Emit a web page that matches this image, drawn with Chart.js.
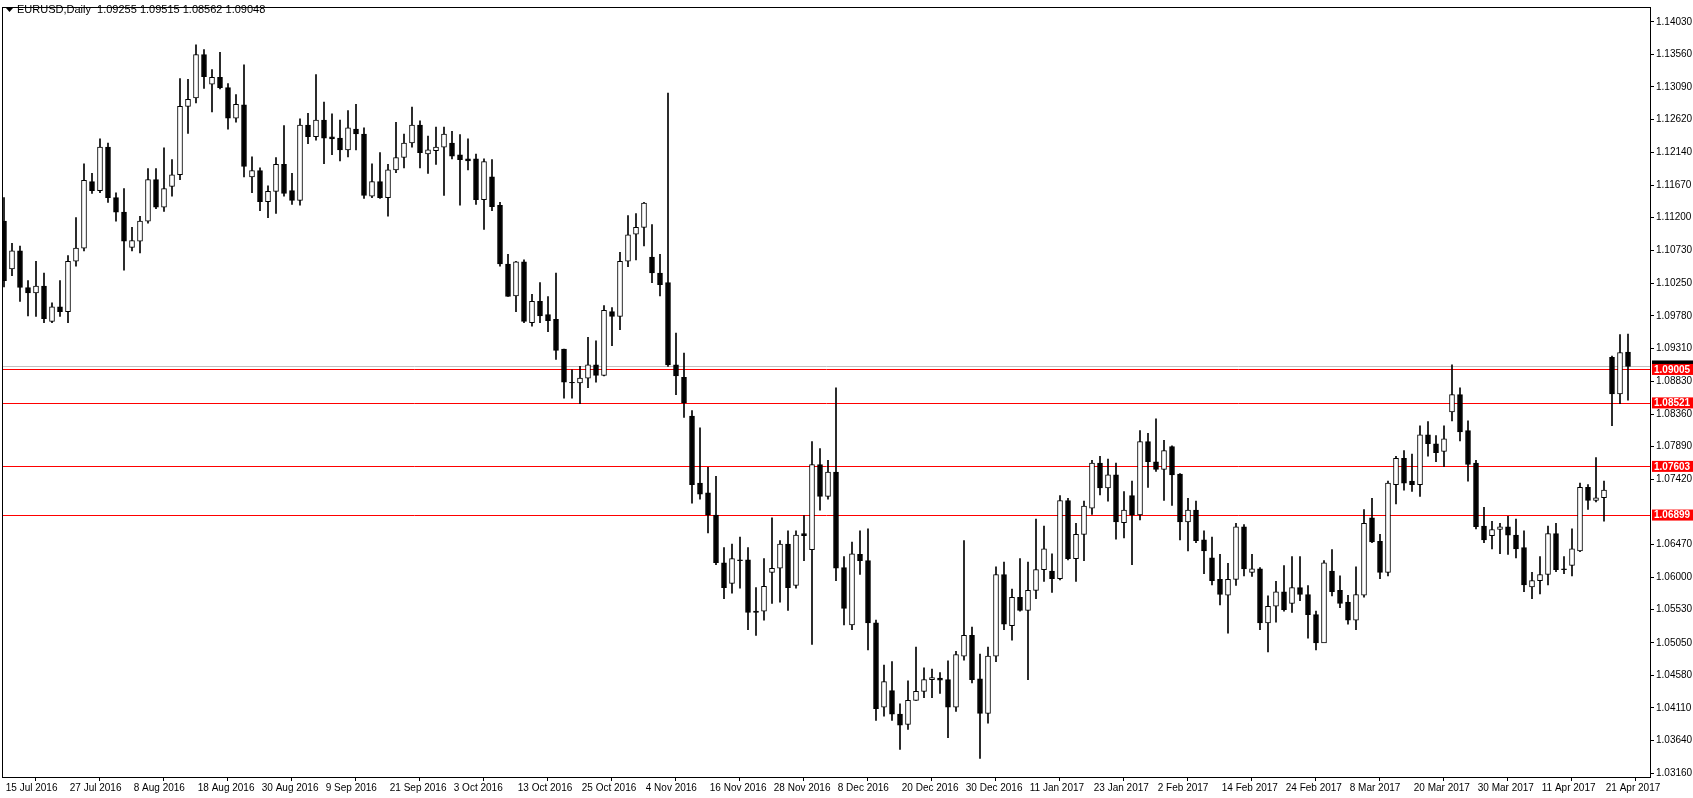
<!DOCTYPE html>
<html><head><meta charset="utf-8">
<script src="https://cdn.jsdelivr.net/npm/chart.js@4.4.1/dist/chart.umd.min.js"></script>
<style>html,body{margin:0;padding:0;background:#fff;overflow:hidden}canvas{display:block}</style>
</head><body>
<canvas id="c" width="1693" height="798"></canvas>
<script>
const opens = [
1.1115,1.1046,1.1072,1.1019,1.1011,1.1021,1.0970,1.0991,1.0984,1.1057,
1.1076,1.1172,1.1159,1.1222,1.1149,1.1128,1.1077,1.1086,1.1115,1.1175,
1.1135,1.1165,1.1182,1.1281,1.1293,1.1356,1.1313,1.1323,1.1308,1.1264,
1.1283,1.1179,1.1188,1.1143,1.1158,1.1197,1.1159,1.1145,1.1254,1.1237,
1.1261,1.1237,1.1235,1.1218,1.1248,1.1241,1.1151,1.1172,1.1149,1.1189,
1.1207,1.1228,1.1254,1.1212,1.1217,1.1222,1.1228,1.1211,1.1205,1.1205,
1.1146,1.1179,1.1138,1.1053,1.1007,1.1056,1.0968,1.0999,1.0980,1.0973,
1.0930,1.0882,1.0881,1.0888,1.0907,1.0892,1.0984,1.0977,1.1057,1.1096,
1.1106,1.1063,1.1040,1.1026,1.0907,1.0889,1.0833,1.0736,1.0722,1.0690,
1.0621,1.0591,1.0625,1.0625,1.0551,1.0551,1.0607,1.0613,1.0648,1.0588,
1.0663,1.0640,1.0763,1.0717,1.0752,1.0614,1.0531,1.0633,1.0624,1.0534,
1.0412,1.0436,1.0402,1.0387,1.0422,1.0435,1.0452,1.0454,1.0452,1.0412,
1.0486,1.0516,1.0453,1.0403,1.0486,1.0604,1.0530,1.0571,1.0552,1.0581,
1.0611,1.0609,1.0598,1.0711,1.0627,1.0662,1.0700,1.0765,1.0729,1.0748,
1.0679,1.0718,1.0690,1.0796,1.0767,1.0756,1.0789,1.0749,1.0680,1.0697,
1.0654,1.0628,1.0597,1.0574,1.0597,1.0673,1.0607,1.0612,1.0534,1.0558,
1.0579,1.0562,1.0585,1.0575,1.0546,1.0505,1.0609,1.0581,1.0564,1.0538,
1.0574,1.0686,1.0652,1.0607,1.0734,1.0772,1.0739,1.0734,1.0806,1.0793,
1.0782,1.0839,1.0864,1.0812,1.0765,1.0674,1.0660,1.0669,1.0673,1.0661,
1.0643,1.0586,1.0595,1.0604,1.0663,1.0612,1.0617,1.0638,1.0730,1.0711,
1.0715,1.0918,1.0865,1.09255];
const highs = [
1.1149,1.1083,1.1079,1.1029,1.1057,1.1040,1.0997,1.1029,1.1065,1.1120,
1.1198,1.1184,1.1234,1.1228,1.1156,1.1162,1.1106,1.1122,1.1191,1.1191,
1.1221,1.1204,1.1321,1.1320,1.1370,1.1363,1.1334,1.1359,1.1314,1.1298,
1.1341,1.1208,1.1192,1.1166,1.1207,1.1253,1.1184,1.1263,1.1271,1.1327,
1.1287,1.1270,1.1261,1.1275,1.1284,1.1250,1.1198,1.1214,1.1197,1.1258,
1.1241,1.1280,1.1260,1.1238,1.1251,1.1251,1.1245,1.1240,1.1234,1.1212,
1.1205,1.1204,1.1142,1.1067,1.1057,1.1059,1.1009,1.1026,1.1006,1.1040,
1.0930,1.0900,1.0905,1.0947,1.0942,1.0993,1.0990,1.1070,1.1123,1.1126,
1.1142,1.1110,1.1067,1.1300,1.0953,1.0924,1.0841,1.0816,1.0759,1.0746,
1.0643,1.0648,1.0658,1.0643,1.0585,1.0627,1.0686,1.0653,1.0667,1.0667,
1.0689,1.0796,1.0786,1.0769,1.0874,1.0630,1.0651,1.0667,1.0670,1.0538,
1.0473,1.0478,1.0417,1.0450,1.0499,1.0469,1.0467,1.0462,1.0479,1.0493,
1.0653,1.0528,1.0489,1.0499,1.0615,1.0622,1.0583,1.0627,1.0622,1.0684,
1.0674,1.0634,1.0718,1.0714,1.0678,1.0710,1.0769,1.0775,1.0771,1.0765,
1.0724,1.0739,1.0812,1.0808,1.0829,1.0798,1.0790,1.0750,1.0714,1.0710,
1.0667,1.0658,1.0633,1.0620,1.0678,1.0676,1.0633,1.0614,1.0573,1.0594,
1.0617,1.0630,1.0630,1.0588,1.0551,1.0624,1.0640,1.0602,1.0574,1.0615,
1.0698,1.0714,1.0662,1.0739,1.0775,1.0783,1.0778,1.0819,1.0825,1.0805,
1.0819,1.0907,1.0874,1.0826,1.0769,1.0701,1.0681,1.0678,1.0688,1.0684,
1.0667,1.0607,1.0630,1.0674,1.0678,1.0630,1.0670,1.0736,1.0734,1.0773,
1.0739,1.0920,1.0951,1.09515];
const lows = [
1.1020,1.1036,1.0999,1.0978,1.0977,1.0968,1.0968,1.0977,1.0968,1.1050,
1.1072,1.1155,1.1156,1.1142,1.1115,1.1044,1.1072,1.1069,1.1112,1.1133,
1.1129,1.1151,1.1175,1.1242,1.1286,1.1307,1.1273,1.1306,1.1248,1.1258,
1.1179,1.1156,1.1130,1.1120,1.1126,1.1151,1.1139,1.1138,1.1227,1.1232,
1.1198,1.1211,1.1202,1.1208,1.1218,1.1148,1.1149,1.1148,1.1122,1.1185,
1.1192,1.1222,1.1192,1.1184,1.1197,1.1152,1.1205,1.1138,1.1189,1.1139,
1.1103,1.1130,1.1050,1.1006,1.0984,1.0968,1.0963,1.0968,1.0955,1.0915,
1.0859,1.0859,1.0851,1.0874,1.0882,1.0891,1.0935,1.0958,1.1049,1.1059,
1.1079,1.1026,1.1007,1.0905,1.0864,1.0831,1.0707,1.0713,1.0664,1.0618,
1.0569,1.0577,1.0584,1.0524,1.0516,1.0538,1.0562,1.0564,1.0552,1.0584,
1.0624,1.0503,1.0697,1.0713,1.0595,1.0531,1.0524,1.0604,1.0495,1.0393,
1.0399,1.0393,1.0351,1.0380,1.0422,1.0426,1.0426,1.0432,1.0368,1.0406,
1.0480,1.0447,1.0338,1.0389,1.0478,1.0524,1.0509,1.0551,1.0452,1.0569,
1.0594,1.0578,1.0596,1.0625,1.0594,1.0624,1.0691,1.0719,1.0710,1.0655,
1.0657,1.0618,1.0683,1.0730,1.0753,1.0711,1.0704,1.0654,1.0638,1.0650,
1.0605,1.0589,1.0560,1.0519,1.0588,1.0602,1.0601,1.0524,1.0492,1.0535,
1.0551,1.0549,1.0566,1.0512,1.0495,1.0509,1.0573,1.0556,1.0532,1.0524,
1.0571,1.0650,1.0598,1.0602,1.0706,1.0726,1.0724,1.0717,1.0775,1.0767,
1.0760,1.0826,1.0797,1.0739,1.0670,1.0650,1.0641,1.0634,1.0633,1.0628,
1.0579,1.0569,1.0576,1.0589,1.0608,1.0605,1.0602,1.0637,1.0698,1.0709,
1.0681,1.0819,1.0851,1.08562];
const closes = [
1.1029,1.1072,1.1019,1.1011,1.1021,1.0974,1.0991,1.0984,1.1057,1.1076,
1.1174,1.1159,1.1222,1.1149,1.1128,1.1086,1.1087,1.1115,1.1175,1.1135,
1.1162,1.1182,1.1281,1.1291,1.1356,1.1324,1.1323,1.1308,1.1264,1.1284,
1.1194,1.1188,1.1143,1.1158,1.1197,1.1155,1.1145,1.1254,1.1237,1.1261,
1.1235,1.1234,1.1218,1.1250,1.1241,1.1152,1.1172,1.1149,1.1189,1.1207,
1.1228,1.1254,1.1214,1.1218,1.1222,1.1241,1.1209,1.1204,1.1202,1.1146,
1.1201,1.1136,1.1053,1.1006,1.1056,1.0970,1.0999,1.0978,1.0971,1.0928,
1.0882,1.0881,1.0888,1.0907,1.0892,1.0986,1.0977,1.1057,1.1095,1.1106,
1.1141,1.1040,1.1023,1.0907,1.0891,1.0852,1.0734,1.0720,1.0690,1.0621,
1.0585,1.0627,1.0624,1.0549,1.0549,1.0587,1.0613,1.0648,1.0585,1.0661,
1.0660,1.0763,1.0717,1.0752,1.0613,1.0555,1.0634,1.0624,1.0534,1.0410,
1.0449,1.0402,1.0386,1.0422,1.0435,1.0452,1.0455,1.0451,1.0412,1.0488,
1.0516,1.0452,1.0403,1.0486,1.0604,1.0532,1.0571,1.0552,1.0581,1.0611,
1.0641,1.0598,1.0711,1.0627,1.0662,1.0703,1.0765,1.0729,1.0748,1.0680,
1.0697,1.0690,1.0796,1.0767,1.0756,1.0783,1.0748,1.0680,1.0697,1.0653,
1.0638,1.0595,1.0575,1.0597,1.0673,1.0612,1.0612,1.0534,1.0558,1.0579,
1.0553,1.0585,1.0575,1.0546,1.0505,1.0621,1.0579,1.0562,1.0538,1.0575,
1.0678,1.0651,1.0607,1.0736,1.0772,1.0736,1.0734,1.0806,1.0793,1.0780,
1.0800,1.0864,1.0810,1.0763,1.0673,1.0654,1.0669,1.0673,1.0661,1.0641,
1.0589,1.0595,1.0604,1.0663,1.0611,1.0611,1.0641,1.0730,1.0711,1.0715,
1.0726,1.0865,1.0925,1.09048];
const dateLabels = ["15 Jul 2016","27 Jul 2016","8 Aug 2016","18 Aug 2016","30 Aug 2016","9 Sep 2016","21 Sep 2016","3 Oct 2016","13 Oct 2016","25 Oct 2016","4 Nov 2016","16 Nov 2016","28 Nov 2016","8 Dec 2016","20 Dec 2016","30 Dec 2016","11 Jan 2017","23 Jan 2017","2 Feb 2017","14 Feb 2017","24 Feb 2017","8 Mar 2017","20 Mar 2017","30 Mar 2017","11 Apr 2017","21 Apr 2017"];
const priceTicks = [1.14030,1.13560,1.13090,1.12620,1.12140,1.11670,1.11200,1.10730,1.10250,1.09780,1.09310,1.08830,1.08360,1.07890,1.07420,1.06470,1.06000,1.05530,1.05050,1.04580,1.04110,1.03640,1.03160];
const levelLines = [1.09005,1.08521,1.07603,1.06899];
const bidLine = 1.09048;
const headerText = "EURUSD,Daily  1.09255 1.09515 1.08562 1.09048";

const FONT = "'Liberation Sans', Arial, sans-serif";
const wickData = highs.map((h,i)=>({x:i, y:[lows[i], h]}));
const bodyData = opens.map((o,i)=>({x:i, y:[o, closes[i]]}));
const isUp = i => closes[i] >= opens[i];

const overlay = {
  id:'overlay',
  beforeDatasetsDraw(chart){
    const {ctx, chartArea:a, scales:{y}} = chart;
    ctx.save();
    ctx.lineWidth = 1;
    ctx.strokeStyle = '#c0c0c0';
    let py = Math.round(y.getPixelForValue(bidLine))+0.5;
    ctx.beginPath(); ctx.moveTo(a.left, py); ctx.lineTo(a.right, py); ctx.stroke();
    ctx.strokeStyle = '#ff0000';
    levelLines.forEach(v=>{
      const p = Math.round(y.getPixelForValue(v))+0.5;
      ctx.beginPath(); ctx.moveTo(a.left, p); ctx.lineTo(a.right, p); ctx.stroke();
    });
    ctx.restore();
  },
  afterDraw(chart){
    const {ctx, chartArea:a, scales:{y}} = chart;
    ctx.save();
    ctx.strokeStyle = '#000'; ctx.lineWidth = 1;
    ctx.strokeRect(a.left-0.5, a.top-0.5, a.right-a.left+1, a.bottom-a.top+1);
    ctx.fillStyle = '#000';
    ctx.beginPath(); ctx.moveTo(6,8); ctx.lineTo(13,8); ctx.lineTo(9.5,12); ctx.closePath(); ctx.fill();
    ctx.font = '11px '+FONT; ctx.textBaseline='middle'; ctx.textAlign='left';
    ctx.fillText(headerText, 17, 10);
    let by = y.getPixelForValue(bidLine);
    ctx.fillStyle = '#000'; ctx.fillRect(a.right+2, by-6, 1693-a.right-2, 12);
    levelLines.forEach(v=>{
      const p = y.getPixelForValue(v);
      ctx.fillStyle = '#ff0000';
      ctx.fillRect(a.right+2, p-5.5, 1693-a.right-2, 11);
      ctx.fillStyle = '#fff';
      ctx.font = 'bold 10px '+FONT;
      ctx.fillText(v.toFixed(5), a.right+4, p+0.5);
    });
    ctx.restore();
  }
};

new Chart(document.getElementById('c'), {
  type:'bar',
  data:{datasets:[
    {data:bodyData, order:1, barThickness:5, borderWidth:1, borderColor:'#000', borderSkipped:false,
     backgroundColor: c=> isUp(c.dataIndex)?'#fff':'#000'},
    {data:wickData, order:2, barThickness:1, borderWidth:0, backgroundColor:'#000'}
  ]},
  options:{
    responsive:false, animation:false, devicePixelRatio:1,
    layout:{padding:{top:2,left:3,right:0,bottom:0}},
    plugins:{legend:{display:false}, tooltip:{enabled:false}},
    datasets:{bar:{grouped:false}},
    scales:{
      x:{type:'linear', min:-0.125, max:205.75, offset:false,
        grid:{drawOnChartArea:false, drawTicks:true, tickLength:4, color:'#000'},
        border:{display:true, color:'#000'},
        afterBuildTicks: s=>{ s.ticks = dateLabels.map((d,k)=>({value:8*k-0.125})); },
        afterFit: s=>{ s.height = 21; },
        ticks:{autoSkip:false, maxRotation:0, align:'start', padding:1, color:'#000',
          font:{family:FONT, size:10},
          callback:(v,idx)=> ' '+dateLabels[idx]}
      },
      y:{position:'right', min:1.03111, max:1.14232,
        grid:{drawOnChartArea:false, drawTicks:true, tickLength:4, color:'#000'},
        border:{display:true, color:'#000'},
        afterBuildTicks: s=>{ s.ticks = priceTicks.map(v=>({value:v})); },
        afterFit: s=>{ s.width = 43; },
        ticks:{autoSkip:false, padding:2, color:'#000', font:{family:FONT, size:10},
          callback:v=> Number(v).toFixed(5)}
      }
    }
  },
  plugins:[overlay]
});
</script>
</body></html>
